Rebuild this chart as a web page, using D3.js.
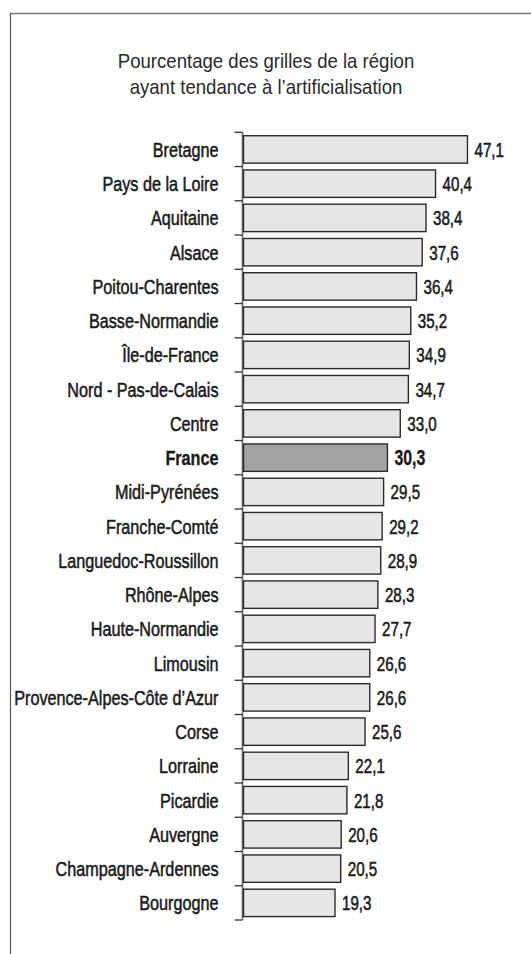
<!DOCTYPE html>
<html>
<head>
<meta charset="utf-8">
<script src="https://cdn.jsdelivr.net/npm/d3@7"></script>
<style>
  html, body { margin: 0; padding: 0; background: #fff; }
  svg { display: block; }
</style>
</head>
<body>
<svg id="chart" width="531" height="954"></svg>
<script>
const titleLines = ["Pourcentage des grilles de la région", "ayant tendance à l’artificialisation"];
const regions = ["Bretagne", "Pays de la Loire", "Aquitaine", "Alsace", "Poitou-Charentes",
  "Basse-Normandie", "Île-de-France", "Nord - Pas-de-Calais", "Centre", "France",
  "Midi-Pyrénées", "Franche-Comté", "Languedoc-Roussillon", "Rhône-Alpes", "Haute-Normandie",
  "Limousin", "Provence-Alpes-Côte d’Azur", "Corse", "Lorraine", "Picardie", "Auvergne",
  "Champagne-Ardennes", "Bourgogne"];
const values = [47.1, 40.4, 38.4, 37.6, 36.4, 35.2, 34.9, 34.7, 33.0, 30.3, 29.5, 29.2, 28.9,
  28.3, 27.7, 26.6, 26.6, 25.6, 22.1, 21.8, 20.6, 20.5, 19.3];
const highlight = "France";

const data = regions.map((r, i) => ({ region: r, value: values[i] }));
const svg = d3.select("#chart");
const FONT = "'Liberation Sans', Arial, Helvetica, sans-serif";
const SX = 0.79;   // horizontal condensation of label type
const SXV = 0.74;  // condensation of value type

// frame
svg.append("line").attr("x1", 10).attr("x2", 531).attr("y1", 13.5).attr("y2", 13.5)
  .attr("stroke", "#7a7a7a").attr("stroke-width", 1.6);
svg.append("line").attr("x1", 10.5).attr("x2", 10.5).attr("y1", 13).attr("y2", 954)
  .attr("stroke", "#555").attr("stroke-width", 1.2);

// title
svg.append("g").selectAll("text").data(titleLines).join("text")
  .attr("transform", (d, i) => `translate(266,${67.5 + i * 26}) scale(0.93,1)`)
  .attr("text-anchor", "middle")
  .attr("font-family", FONT).attr("font-size", 20).attr("fill", "#2a2a2a")
  .text(d => d);

// scales
const x = d3.scaleLinear().domain([0, 50]).range([243, 243 + 50 * 4.766]);
const yRow = d3.scaleBand().domain(regions).range([132.3, 920]).padding(0);
const y = d3.scaleBand().domain(regions).range([132.3, 920]).paddingInner(0.2).paddingOuter(0.1);

// axis line + ticks at row boundaries
const axisX = x(0) - 0.5;
svg.append("line").attr("x1", axisX).attr("x2", axisX)
  .attr("y1", yRow.range()[0]).attr("y2", yRow.range()[1])
  .attr("stroke", "#666").attr("stroke-width", 1.6);
const boundaries = regions.map(r => yRow(r)).concat([yRow.range()[1]]);
svg.append("g").selectAll("line").data(boundaries).join("line")
  .attr("x1", axisX - 8).attr("x2", axisX).attr("y1", d => d).attr("y2", d => d)
  .attr("stroke", "#333").attr("stroke-width", 1.3);

// bars
svg.append("g").selectAll("rect").data(data).join("rect")
  .attr("x", x(0) + 0.5)
  .attr("y", d => y(d.region))
  .attr("width", d => x(d.value) - x(0) - 0.5)
  .attr("height", y.bandwidth())
  .attr("fill", d => d.region === highlight ? "#a3a3a3" : "#e6e6e6")
  .attr("stroke", "#2b2b2b").attr("stroke-width", 1.4);

// category labels
svg.append("g").selectAll("text").data(data).join("text")
  .attr("transform", d => `translate(218.5,${y(d.region) + y.bandwidth() / 2 + 7.5}) scale(${SX},1)`)
  .attr("text-anchor", "end")
  .attr("font-family", FONT)
  .attr("font-size", 20.5)
  .attr("font-weight", d => d.region === highlight ? "bold" : "normal")
  .attr("fill", "#1a1a1a")
  .attr("stroke", "#1a1a1a")
  .attr("stroke-width", d => d.region === highlight ? 0.3 : 0.55)
  .text(d => d.region);

// value labels
const fmt = v => v.toFixed(1).replace(".", ",");
svg.append("g").selectAll("text").data(data).join("text")
  .attr("transform", d => `translate(${x(d.value) + 7},${y(d.region) + y.bandwidth() / 2 + 7.5}) scale(${SXV},1)`)
  .attr("font-family", FONT)
  .attr("font-size", d => d.region === highlight ? 21.5 : 20.5)
  .attr("font-weight", d => d.region === highlight ? "bold" : "normal")
  .attr("fill", "#1a1a1a")
  .attr("stroke", "#1a1a1a")
  .attr("stroke-width", d => d.region === highlight ? 0.3 : 0.55)
  .text(d => fmt(d.value));
</script>
</body>
</html>
